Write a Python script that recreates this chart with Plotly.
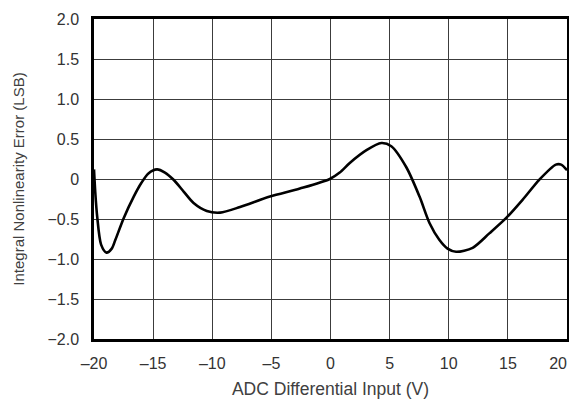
import plotly.graph_objects as go

# ADC differential input (V) and integral nonlinearity error (LSB)
input_v = [-20.0, -19.9, -19.73, -19.4, -18.95, -18.5, -18.19, -17.49, -16.64, -16.0,
           -15.4, -14.67, -14.0, -13.27, -12.4, -11.58, -10.46, -9.33, -7.65, -5.12,
           -2.59, -0.06, 0.78, 1.63, 3.04, 4.3, 5.14, 6.4, 7.53, 8.37, 9.2, 9.9, 10.62,
           12.02, 13.43, 14.84, 16.24, 17.65, 19.06, 19.5, 20.0]
inl_lsb = [0.12, -0.15, -0.47, -0.82, -0.92, -0.87, -0.76, -0.49, -0.22, -0.05,
           0.07, 0.12, 0.08, -0.01, -0.16, -0.30, -0.40, -0.42, -0.35, -0.22,
           -0.12, 0.0, 0.08, 0.2, 0.36, 0.45, 0.41, 0.15, -0.22, -0.55, -0.76, -0.87, -0.91,
           -0.86, -0.68, -0.49, -0.26, -0.01, 0.18, 0.18, 0.11]

x_ticks = [-20, -15, -10, -5, 0, 5, 10, 15, 20]
# last label padded with no-break spaces so it sits inside the window like the original
x_labels = ["\u201320", "\u201315", "\u201310", "\u20135", "0", "5", "10", "15",
            "20\u00a0\u00a0\u00a0\u00a0"]
y_ticks = [-2.0, -1.5, -1.0, -0.5, 0, 0.5, 1.0, 1.5, 2.0]
y_labels = ["\u22122.0", "\u22121.5", "\u22121.0", "\u22120.5", "0", "0.5", "1.0", "1.5", "2.0"]

fig = go.Figure()
fig.add_trace(go.Scatter(
    x=input_v,
    y=inl_lsb,
    mode='lines',
    line=dict(color='black', width=2.6, shape='spline', smoothing=0.8),
    showlegend=False,
    hoverinfo='skip'
))

axis_common = dict(
    showgrid=True,
    gridcolor='#3c3c3c',
    gridwidth=1,
    showline=True,
    linecolor='black',
    linewidth=2.5,
    mirror=True,
    zeroline=False,
    automargin=False,
    ticks='outside',
    tickcolor='rgba(0,0,0,0)',
    ticklabeloverflow='allow',
    tickfont=dict(size=16, color='#333333'),
)

# the page body adds an 8px offset, so the figure is sized to sit inside the window
fig.update_layout(
    width=569,
    height=394,
    margin=dict(l=86, r=10, t=11, b=63),
    paper_bgcolor='white',
    plot_bgcolor='white',
    font=dict(family="'Liberation Sans', Arial, sans-serif", color='#333333'),
    xaxis=dict(
        axis_common,
        range=[-20, 20],
        tickvals=x_ticks,
        ticktext=x_labels,
        ticklen=8,
        title=dict(text='ADC Differential Input (V)', font=dict(size=17.5, color='#404040'), standoff=12),
    ),
    yaxis=dict(
        axis_common,
        range=[-2.0, 2.0],
        tickvals=y_ticks,
        ticktext=y_labels,
        ticklen=9,
        title=dict(text='Integral Nonlinearity Error (LSB)', font=dict(size=15, color='#404040'), standoff=20),
    ),
)

fig.write_html("out.html")
